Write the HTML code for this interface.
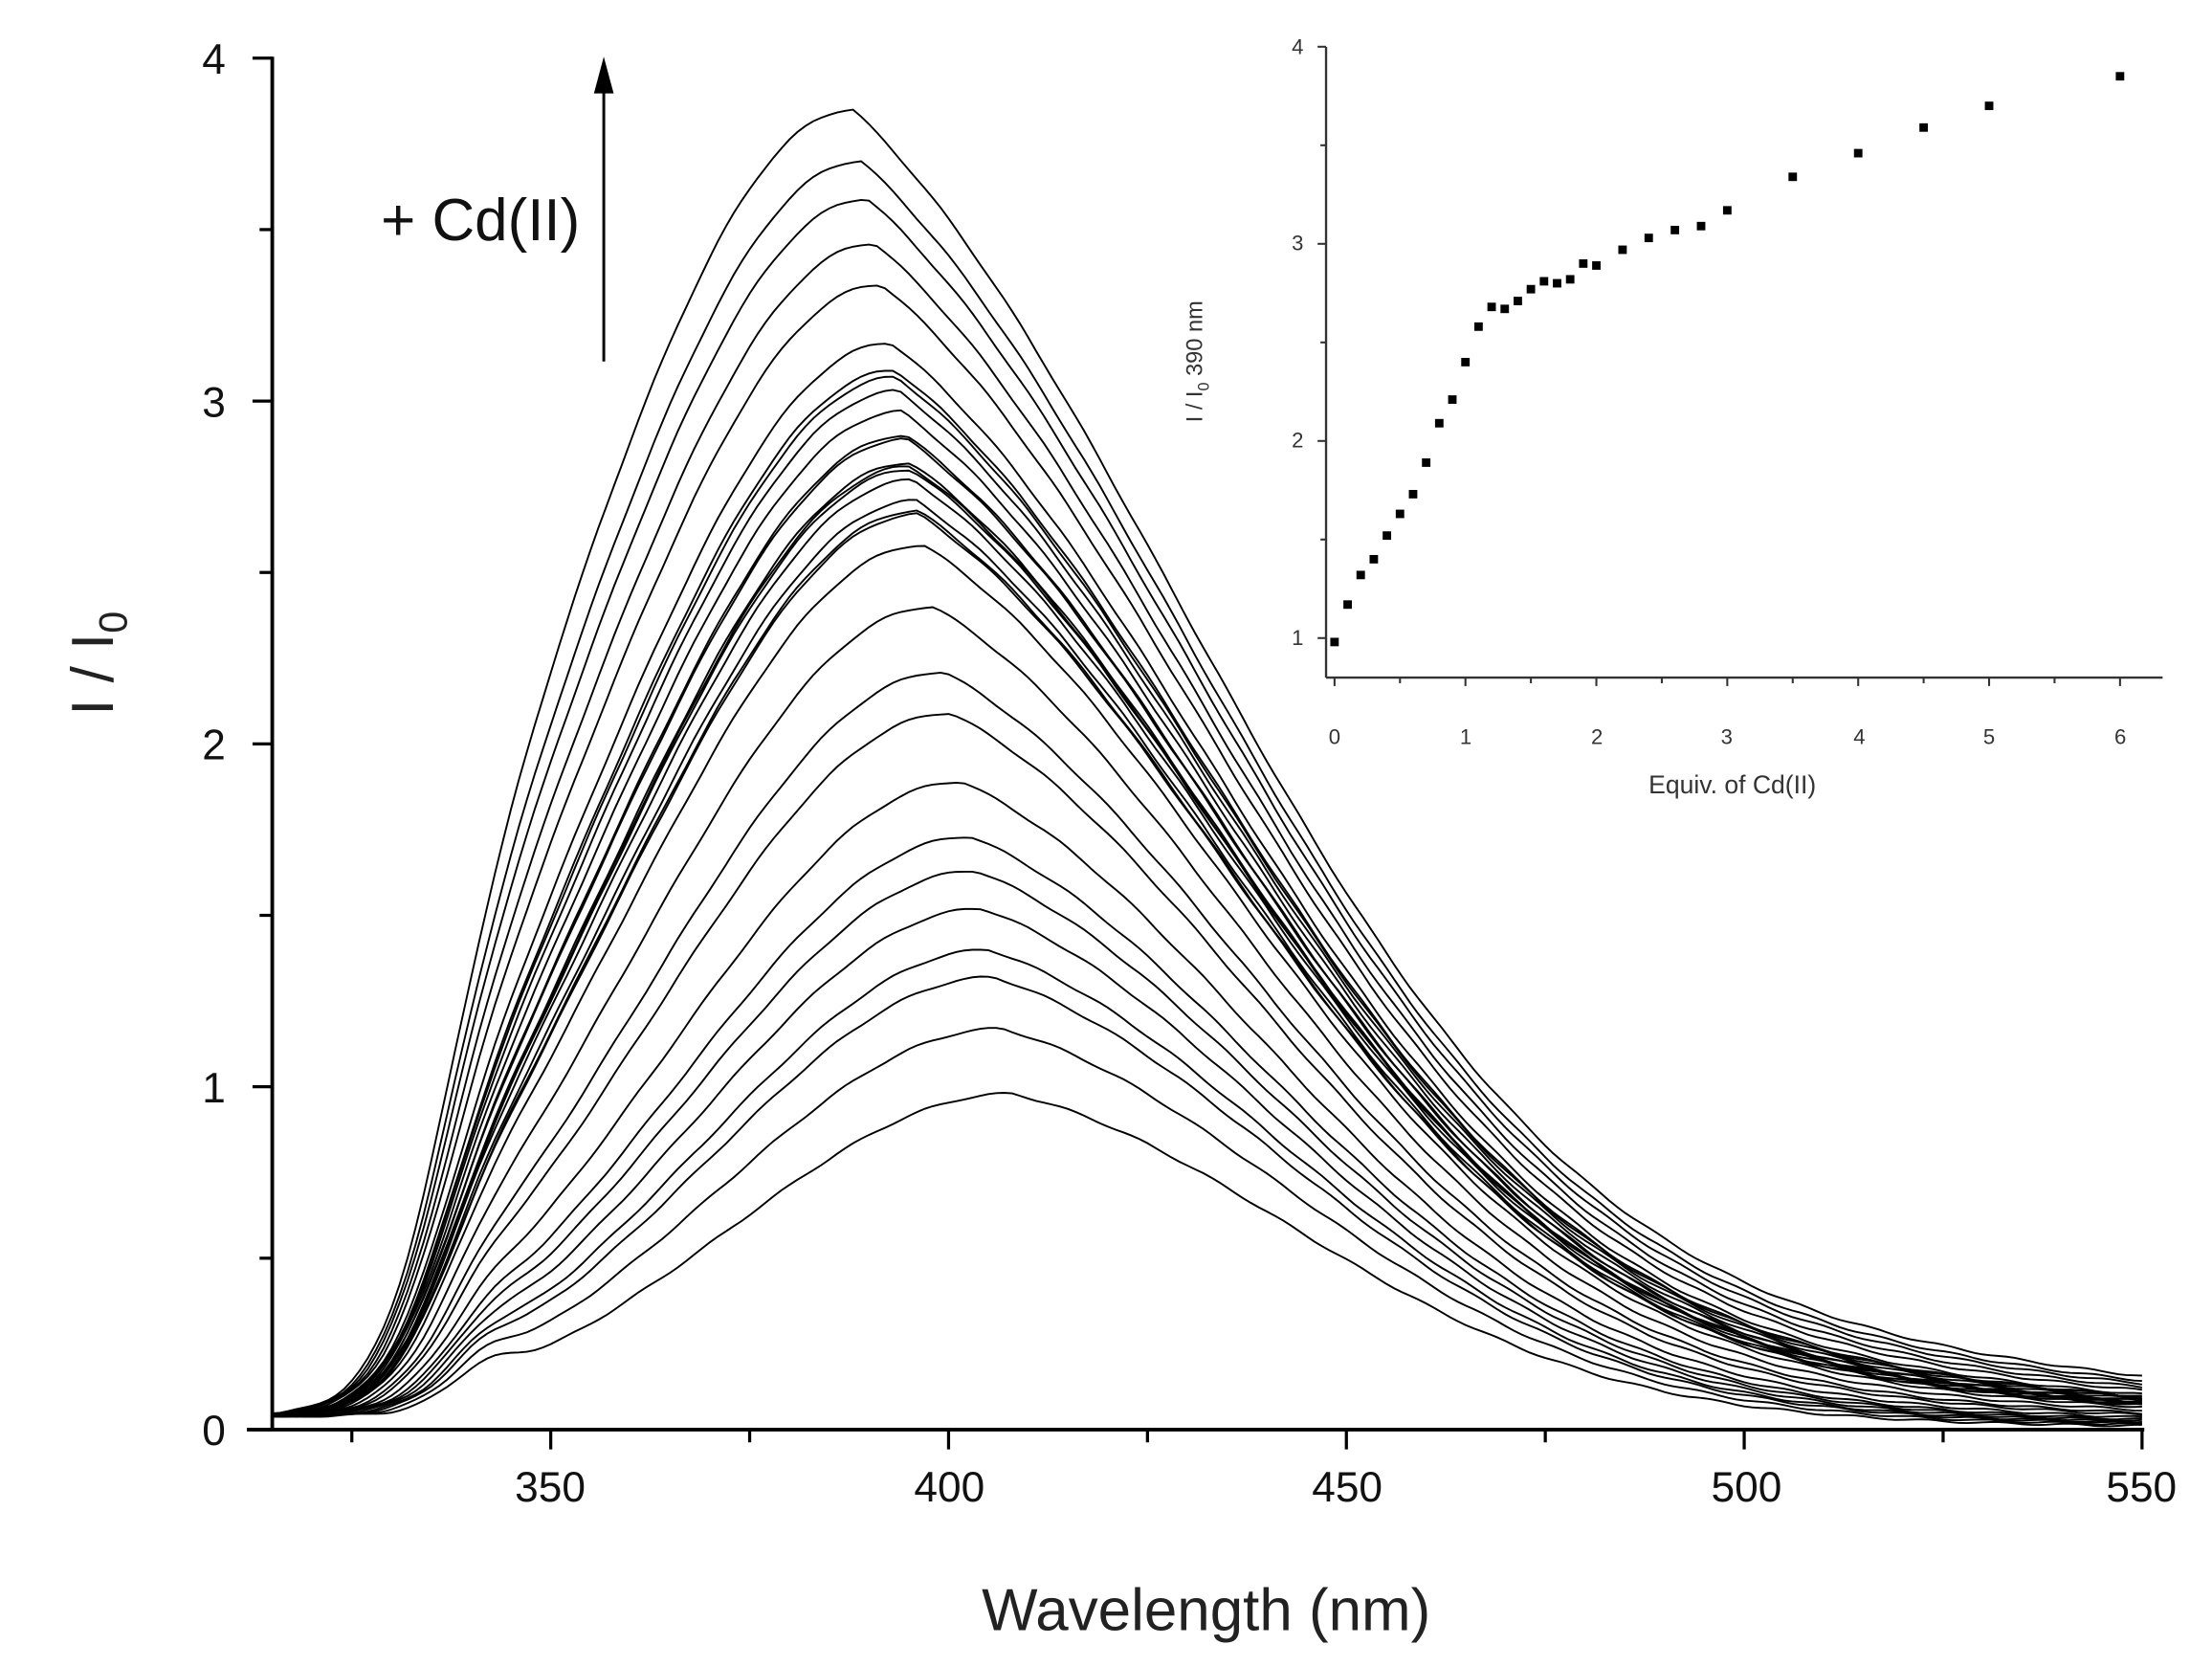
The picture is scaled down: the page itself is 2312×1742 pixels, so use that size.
<!DOCTYPE html>
<html><head><meta charset="utf-8"><style>html,body{margin:0;padding:0;background:#fff}svg{display:block}</style></head>
<body>
<svg id="s" xmlns="http://www.w3.org/2000/svg" width="2312" height="1742" viewBox="0 0 1568 1181" font-family="Liberation Sans, sans-serif">
<rect width="1568" height="1181" fill="#fff"/>
<g id="curves" fill="none" stroke="#000" stroke-width="1.3"></g>
<g stroke="#000" stroke-width="2.6" fill="none">
<line x1="193" y1="40" x2="193" y2="1013"/>
<line x1="175" y1="1013" x2="1520" y2="1013"/>
</g>
<g id="ticks" stroke="#000" stroke-width="2.2"></g>
<g font-size="30" fill="#111" text-anchor="middle">
<text x="390" y="1064">350</text><text x="673" y="1064">400</text><text x="955" y="1064">450</text><text x="1238" y="1064">500</text><text x="1518" y="1064">550</text>
</g>
<g font-size="30" fill="#111" text-anchor="end">
<text x="160" y="1024">0</text><text x="160" y="781">1</text><text x="160" y="538">2</text><text x="160" y="295">3</text><text x="160" y="52">4</text>
</g>
<text x="855" y="1155" font-size="42" text-anchor="middle" fill="#222">Wavelength (nm)</text>
<text transform="translate(80,470) rotate(-90)" font-size="42" text-anchor="middle" fill="#222">I / I<tspan font-size="28" dy="10">0</tspan></text>
<line x1="428" y1="256" x2="428" y2="55" stroke="#000" stroke-width="2"/>
<polygon points="428,40 421,66 435,66" fill="#000"/>
<text x="270" y="170" font-size="42" fill="#111">+ Cd(II)</text>
<g stroke="#333" stroke-width="1.6" fill="none">
<line x1="940" y1="33" x2="940" y2="480"/>
<line x1="940" y1="480" x2="1533" y2="480"/>
</g>
<g id="iticks" stroke="#333" stroke-width="1.4"></g>
<g id="pts" fill="#000"></g>
<g font-size="15" fill="#333" text-anchor="middle">
<text x="946" y="527">0</text><text x="1039" y="527">1</text><text x="1132" y="527">2</text><text x="1224" y="527">3</text><text x="1318" y="527">4</text><text x="1410" y="527">5</text><text x="1503" y="527">6</text>
</g>
<g font-size="15" fill="#333" text-anchor="end">
<text x="924" y="457">1</text><text x="924" y="317">2</text><text x="924" y="177">3</text><text x="924" y="38">4</text>
</g>
<text x="1228" y="562" font-size="18" text-anchor="middle" fill="#333">Equiv. of Cd(II)</text>
<text transform="translate(852,256) rotate(-90)" font-size="16" text-anchor="middle" fill="#333">I / I<tspan font-size="11" dy="5">0</tspan><tspan dy="-5"> 390 nm</tspan></text>
</svg>
<script>
var NS="http://www.w3.org/2000/svg";
function X(l){return 193+(l-315)*282/50;}
function Y(v){return 1013-v*243;}
var eq=[0,0.1,0.2,0.3,0.4,0.5,0.6,0.7,0.8,0.9,1.0,1.1,1.2,1.3,1.4,1.5,1.6,1.7,1.8,1.9,2.0,2.2,2.4,2.6,2.8,3,3.5,4,4.5,5,6];
var hv=[0.98,1.17,1.32,1.40,1.52,1.63,1.73,1.89,2.09,2.21,2.40,2.58,2.68,2.67,2.71,2.77,2.81,2.80,2.82,2.90,2.89,2.97,3.03,3.07,3.09,3.17,3.34,3.46,3.59,3.70,3.85];
var cg=document.getElementById("curves");
hv.forEach(function(h,i){
  var t=(h-0.98)/2.87;
  var p=408-20*t, sL=35+2*t, sR=38+8*t, a=0.75-0.15*t, tau=45+25*t, d="";
  for(var l=315;l<=550;l+=1){
    var x=l-p,g;
    if(x<0)g=Math.exp(-x*x/(2*sL*sL));
    else g=a*Math.exp(-x*x/(2*sR*sR))+(1-a)*Math.exp(-x/tau);
    var L=1/(1+Math.exp(-(l-334)/4.5));
    var sh=(1-t)*0.07*Math.exp(-Math.pow((l-341)/6,2));
    var v=0.04*(1-L)+h*g*L+sh*L+Math.sin(l*0.7+i)*0.003;
    d+=(l==315?"M":"L")+X(l).toFixed(1)+","+Y(v).toFixed(1);
  }
  var pa=document.createElementNS(NS,"path");pa.setAttribute("d",d);cg.appendChild(pa);
});
var tg=document.getElementById("ticks"),s="";
for(var l=325;l<=550;l+=25){var L=(l%50==0)?14:9;s+='<line x1="'+X(l)+'" y1="1013" x2="'+X(l)+'" y2="'+(1013+L)+'"/>';}
for(var v=0;v<=4;v+=0.5){var L=(v%1==0)?14:9;s+='<line x1="193" y1="'+Y(v)+'" x2="'+(193-L)+'" y2="'+Y(v)+'"/>';}
tg.innerHTML=s;
function IX(e){return 946+e*92.8;} function IY(v){return 452-(v-1)*139.7;}
s="";
for(var e=0;e<=6.01;e+=0.5){var L=(e%1==0)?6:4;s+='<line x1="'+IX(e)+'" y1="480" x2="'+IX(e)+'" y2="'+(480+L)+'"/>';}
for(var v=1;v<=4.01;v+=0.5){var L=(v%1==0)?6:4;s+='<line x1="940" y1="'+IY(v)+'" x2="'+(940-L)+'" y2="'+IY(v)+'"/>';}
document.getElementById("iticks").innerHTML=s;
s="";
eq.forEach(function(e,i){s+='<rect x="'+(IX(e)-3)+'" y="'+(IY(hv[i])-3)+'" width="6" height="6"/>';});
document.getElementById("pts").innerHTML=s;
</script>
</body></html>
